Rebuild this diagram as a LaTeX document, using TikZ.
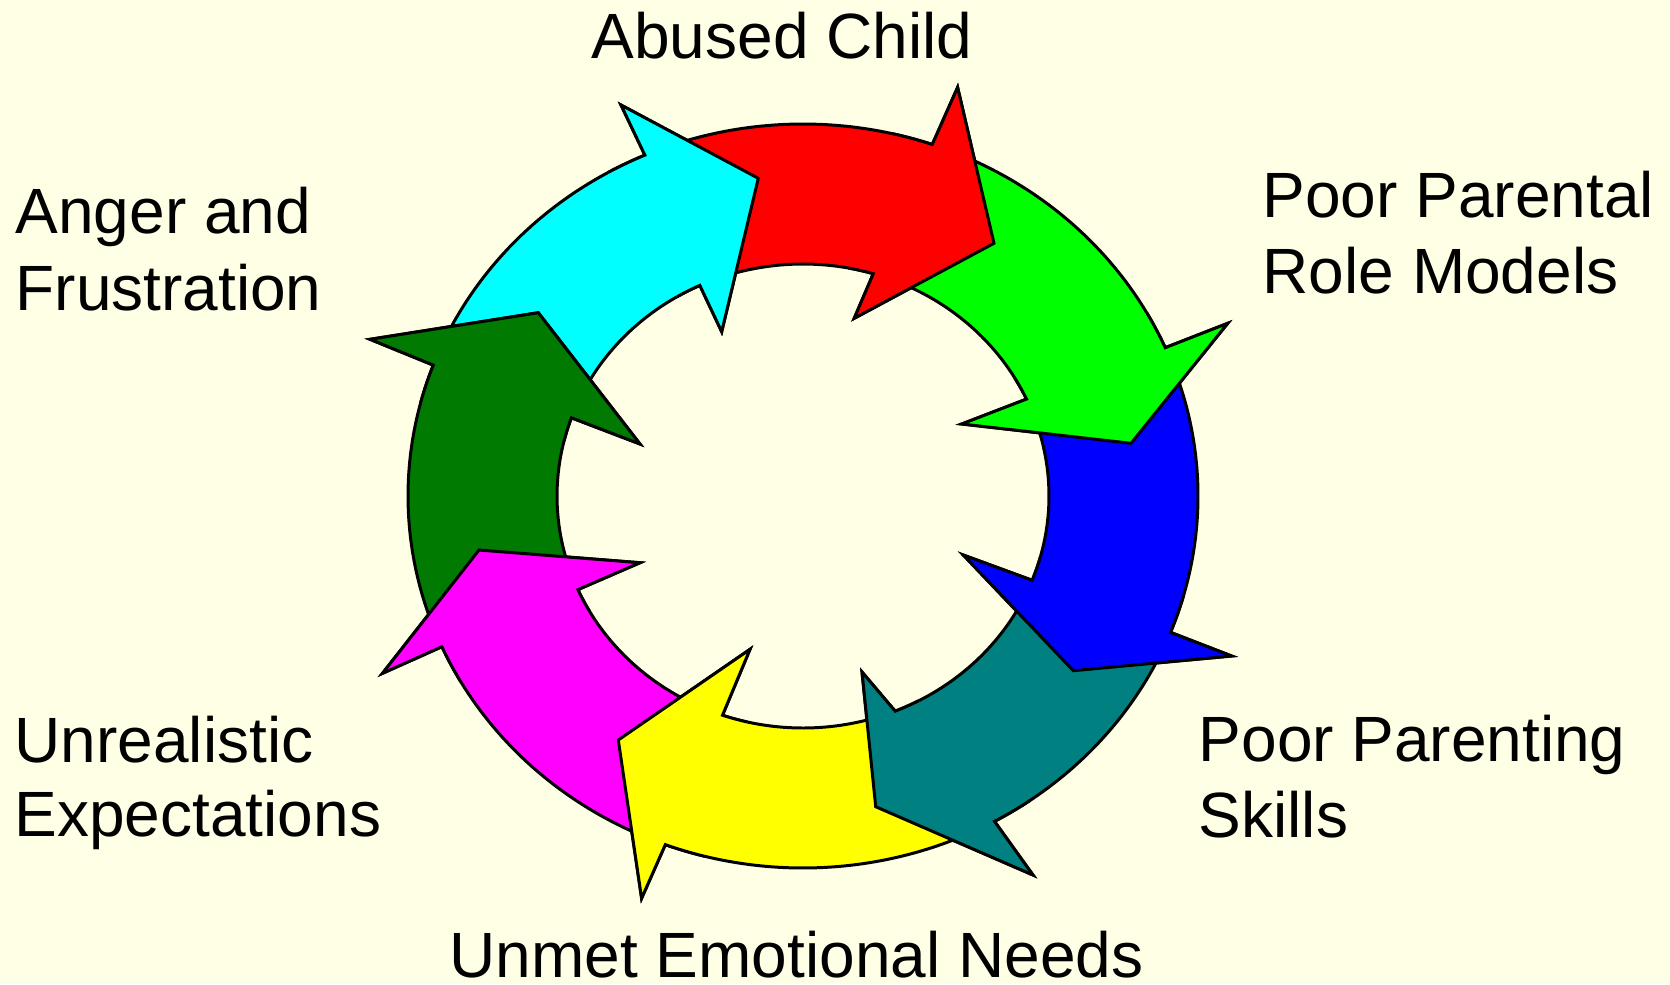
\documentclass[tikz,border=0pt]{standalone}
\usepackage{fontspec}
\setmainfont{Liberation Sans}
\definecolor{bgyellow}{RGB}{255,255,229}
\definecolor{arcyan}{RGB}{0,255,255}
\definecolor{arred}{RGB}{255,0,0}
\definecolor{argreen}{RGB}{0,255,0}
\definecolor{arblue}{RGB}{0,0,255}
\definecolor{arteal}{RGB}{0,128,128}
\definecolor{aryellow}{RGB}{255,255,0}
\definecolor{armagenta}{RGB}{255,0,255}
\definecolor{ardkgreen}{RGB}{0,122,0}
\tikzset{
  arrowline/.style={draw=black, line width=0.85pt},
  lbl/.style={font=\fontsize{18.2}{22}\selectfont, inner sep=0pt, anchor=base west, text=black}
}
% #1 colour, #2/#3 tail angle outer/inner, #4/#5 notch angle outer/inner, #6 outer barb, #7 tip, #8 inner barb
\newcommand\cyclearrow[8]{%
  \filldraw[arrowline, fill=#1]
    ([shift={(803,496)}]#2:395 and 372) arc[start angle=#2, end angle=#4, x radius=395, y radius=372]
    -- (#6) -- (#7) -- (#8)
    -- ([shift={(803,496)}]#5:246 and 232) arc[start angle=#5, end angle=#3, x radius=246, y radius=232]
    -- cycle;}
% #1 colour, #2/#3 notch angle outer/inner, #4 outer barb, #5 tip, #6 inner barb
\newcommand\headover[6]{%
  \fill[#1]
    ([shift={(803,496)}]#2-6:395 and 372) arc[start angle=#2-6, end angle=#2, x radius=395, y radius=372]
    -- (#4) -- (#5) -- (#6)
    -- ([shift={(803,496)}]#3:246 and 232) arc[start angle=#3, end angle=#3-6, x radius=246, y radius=232]
    -- cycle;
  \draw[arrowline]
    ([shift={(803,496)}]#2-6:395 and 372) arc[start angle=#2-6, end angle=#2, x radius=395, y radius=372]
    -- (#4) -- (#5) -- (#6)
    -- ([shift={(803,496)}]#3:246 and 232) arc[start angle=#3, end angle=#3-6, x radius=246, y radius=232];}
\begin{document}
\begin{tikzpicture}[x=0.01cm, y=-0.01cm]
\fill[bgyellow] (0,0) rectangle (1670,984);
\useasboundingbox (0,0) rectangle (1670,984);

% arrow bodies (tails tucked under the previous head)
\cyclearrow{arcyan}{203.1}{202.2}{246.4}{245.2}{621,105}{758.3,178.3}{721.7,331.7}
\cyclearrow{arred}{-111.1}{-112.3}{-70.9}{-73.4}{957.6,87.3}{994,243.3}{854.2,318.3}
\cyclearrow{argreen}{-68.4}{-70.9}{-23.5}{-24.7}{1227.7,323.3}{1131,443.3}{961.7,424}
\cyclearrow{arblue}{-21.0}{-22.2}{21.5}{21.3}{1231.7,656}{1073.3,670.7}{963.3,555}
\cyclearrow{arteal}{24.0}{23.8}{61.0}{68.0}{1033,875}{875.7,806.7}{862,672}
\cyclearrow{aryellow}{63.5}{70.5}{110.4}{109.1}{641.6,898.3}{618.3,740}{750,649.3}
\cyclearrow{armagenta}{112.9}{111.6}{156.1}{156.2}{382.5,673.3}{479,550}{640,562.7}
\cyclearrow{ardkgreen}{158.6}{158.7}{200.6}{199.7}{370,339.3}{538.3,312.7}{640,444}

% heads on top
\headover{arcyan}{246.4}{245.2}{621,105}{758.3,178.3}{721.7,331.7}
\headover{arred}{-70.9}{-73.4}{957.6,87.3}{994,243.3}{854.2,318.3}
\headover{argreen}{-23.5}{-24.7}{1227.7,323.3}{1131,443.3}{961.7,424}
\headover{arblue}{21.5}{21.3}{1231.7,656}{1073.3,670.7}{963.3,555}
\headover{arteal}{61.0}{68.0}{1033,875}{875.7,806.7}{862,672}
\headover{aryellow}{110.4}{109.1}{641.6,898.3}{618.3,740}{750,649.3}
\headover{armagenta}{156.1}{156.2}{382.5,673.3}{479,550}{640,562.7}
\headover{ardkgreen}{200.6}{199.7}{370,339.3}{538.3,312.7}{640,444}

% labels
\node[lbl] (abused) at (591,58.3) {Abused Child};
\node[lbl] (anger1) at (15,233.3) {Anger and};
\node[lbl] (anger2) at (15,310) {Frustration};
\node[lbl] (unreal1) at (14,762.7) {Unrealistic};
\node[lbl] (unreal2) at (14,836.7) {Expectations};
\node[lbl] (parental1) at (1262,217.3) {Poor Parental};
\node[lbl] (parental2) at (1262,293.3) {Role Models};
\node[lbl] (parenting1) at (1198,761.7) {Poor Parenting};
\node[lbl] (parenting2) at (1198,837.7) {Skills};
\node[lbl] (unmet) at (449,977.5) {Unmet Emotional Needs};
\end{tikzpicture}
\end{document}
